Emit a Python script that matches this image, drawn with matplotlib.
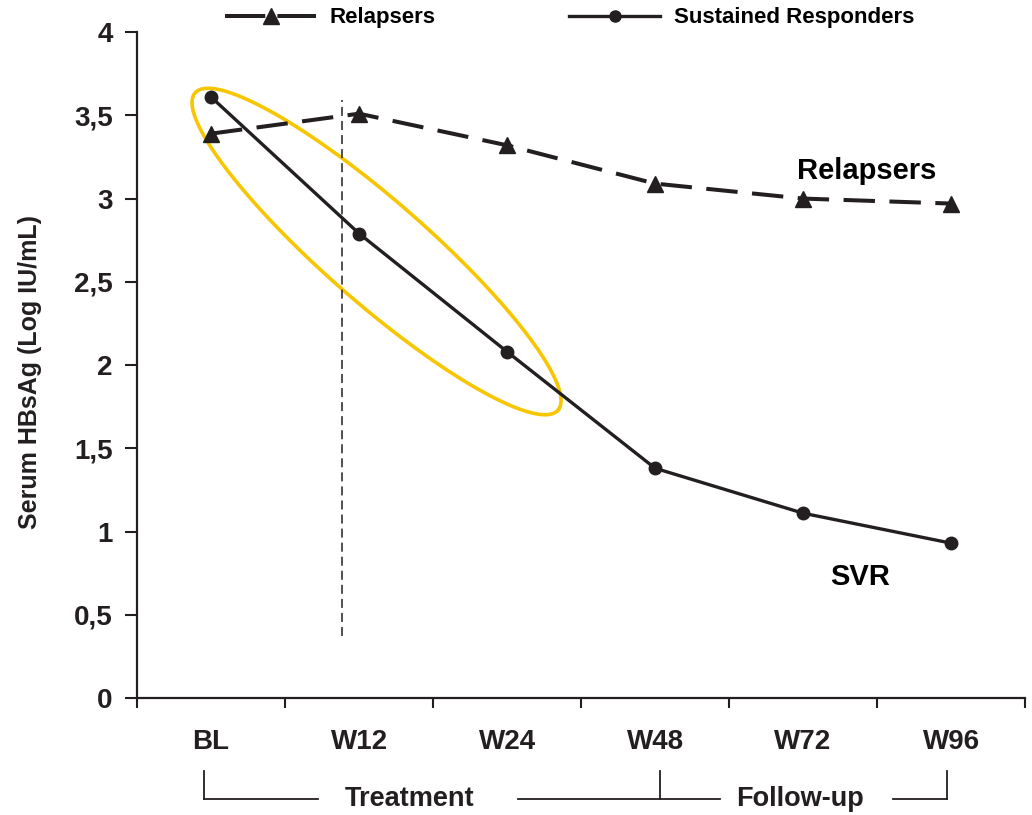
import numpy as np
import matplotlib
matplotlib.use("Agg")
import matplotlib.pyplot as plt
from matplotlib.lines import Line2D

plt.rcParams['font.family'] = ['Liberation Sans', 'DejaVu Sans']
plt.rcParams['font.weight'] = 'bold'

ink = '#231f20'

timepoints = ["BL", "W12", "W24", "W48", "W72", "W96"]
relapsers = [3.39, 3.51, 3.32, 3.09, 3.00, 2.97]
sustained = [3.61, 2.79, 2.08, 1.38, 1.11, 0.93]
yticks = [0, 0.5, 1, 1.5, 2, 2.5, 3, 3.5, 4]
ytick_labels = ["0", "0,5", "1", "1,5", "2", "2,5", "3", "3,5", "4"]

fig = plt.figure(figsize=(10.32, 8.15), dpi=100)
ax = fig.add_axes([0.1328, 0.1436, 0.8605, 0.817])

x = np.arange(len(timepoints))

# yellow highlight ellipse around the early decline
t = np.linspace(0, 2 * np.pi, 300)
cx, cy = 1.118, 2.682
ex = cx + 1.226 * np.cos(t) + 0.227 * np.sin(t)
ey = cy - 0.953 * np.cos(t) + 0.231 * np.sin(t)
ax.plot(ex, ey, color='#F7C600', lw=2.6, zorder=1)

ax.plot(x, relapsers, color=ink, lw=2.9, dashes=(7.8, 3.6),
        marker='^', markersize=11, zorder=3)
ax.plot(x, sustained, color=ink, lw=2.4, marker='o', markersize=9, zorder=3)

# treatment cut-off marker
ax.plot([0.885, 0.885], [0.37, 3.59], color=ink, lw=1.1, dashes=(5.9, 3.3), zorder=2)

ax.text(3.96, 3.117, "Relapsers", fontsize=21, fontweight='bold', color='black')
ax.text(4.385, 0.68, "SVR", fontsize=21, fontweight='bold', color='black', ha='center')

ax.set_xlim(-0.5, 5.5)
ax.set_ylim(0, 4)
ax.set_yticks(yticks)
ax.set_yticklabels(ytick_labels)
ax.set_xticks(x)
ax.set_xticklabels(timepoints)
ax.set_xticks(np.arange(-0.5, 6, 1), minor=True)
ax.tick_params(axis='x', which='major', length=0, pad=22, labelsize=20, colors=ink)
ax.tick_params(axis='x', which='minor', length=7, width=1.5, direction='out', color=ink)
ax.tick_params(axis='y', length=8.6, width=1.5, pad=9, labelsize=20, colors=ink)
for lab in ax.get_xticklabels() + ax.get_yticklabels():
    lab.set_fontweight('bold')

ax.spines['top'].set_visible(False)
ax.spines['right'].set_visible(False)
for s in ('left', 'bottom'):
    ax.spines[s].set_linewidth(1.6)
    ax.spines[s].set_color(ink)

ax.set_ylabel("Serum HBsAg (Log IU/mL)", fontsize=18, fontweight='bold', color=ink)
ax.yaxis.set_label_coords(-0.107, 0.49)

# brackets under the axis
tr = ax.get_xaxis_transform()
y_top, y_bot = -0.110, -0.152
for xv in (-0.05, 3.03, 4.97):
    ax.plot([xv, xv], [y_top, y_bot], color=ink, lw=1.3, transform=tr, clip_on=False)
for x0, x1 in ((-0.05, 0.723), (2.074, 3.44), (4.61, 4.97)):
    ax.plot([x0, x1], [y_bot, y_bot], color=ink, lw=1.3, transform=tr, clip_on=False)
ax.text(1.34, y_bot, "Treatment", transform=tr, ha='center', va='center',
        fontsize=19.5, fontweight='bold', color=ink)
ax.text(3.98, y_bot, "Follow-up", transform=tr, ha='center', va='center',
        fontsize=19.5, fontweight='bold', color=ink)

handles = [
    Line2D([], [], color=ink, lw=2.9, dashes=(10, 3), marker='^', markersize=11),
    Line2D([], [], color=ink, lw=2.4, marker='o', markersize=8),
]
fig.legend(handles, ["Relapsers", "Sustained Responders"], loc='center',
           bbox_to_anchor=(0.552, 0.978), ncol=2, frameon=False,
           handlelength=4.1, handletextpad=0.6, columnspacing=6.0,
           prop={'size': 16, 'weight': 'bold'})

fig.savefig("out.png", dpi=100)
